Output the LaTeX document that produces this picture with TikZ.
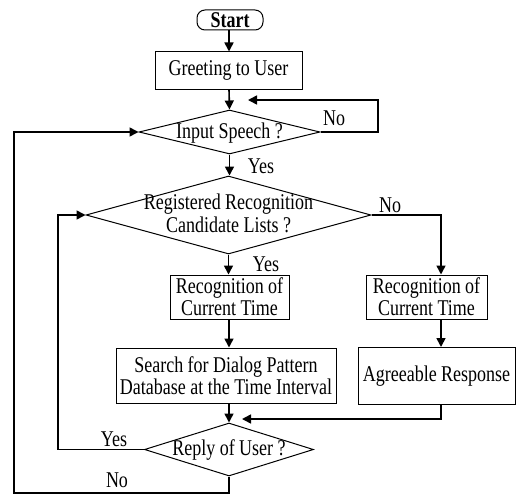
\documentclass[tikz,border=0pt]{standalone}
\usepackage{fontspec}
\setmainfont{Liberation Serif}[FakeStretch=0.8]
\usetikzlibrary{shapes.geometric,arrows.meta}
\newcommand{\dtxt}[1]{\smash{\makebox[0pt]{\raisebox{-0.3em}{\begin{tabular}{@{}c@{}}#1\end{tabular}}}}}
\tikzset{
  box/.style={draw, line width=1pt, rectangle, inner sep=0pt, align=center},
  dia/.style={draw, line width=1pt, diamond, inner sep=0pt},
  arr/.style={line width=1.6pt, -{Triangle[length=9pt,width=9pt]}},
  lab/.style={inner sep=0pt}
}
\begin{document}
\begin{tikzpicture}[x=1pt,y=-1pt,font=\fontsize{22.5}{22}\selectfont]
\useasboundingbox (0,0) rectangle (516,495);
% nodes
\node[box, rounded corners=8pt, minimum width=66pt, minimum height=20pt] (start) at (230,20) {\textbf{Start}};
\node[box, minimum width=147pt, minimum height=37pt] (greet) at (228.5,70.5) {Greeting to User};
\node[dia, minimum width=181pt, minimum height=44pt] (inp) at (229.5,132) {\dtxt{Input Speech ?}};
\node[dia, minimum width=285pt, minimum height=78pt] (reg) at (228.5,215) {\dtxt{Registered Recognition\\Candidate Lists ?}};
\node[box, minimum width=119pt, minimum height=44pt] (rec1) at (229.5,297) {Recognition of\\Current Time};
\node[box, minimum width=121pt, minimum height=44pt] (rec2) at (426.5,297) {Recognition of\\Current Time};
\node[box, minimum width=220pt, minimum height=55pt] (srch) at (226,375.5) {Search for Dialog Pattern\\Database at the Time Interval};
\node[box, minimum width=157pt, minimum height=57pt] (agr) at (436.5,376) {Agreeable Response};
\node[dia, minimum width=169pt, minimum height=53pt] (reply) at (229,449.5) {\dtxt{Reply of User ?}};
% labels
\node[lab] (l1) at (334,118) {No};
\node[lab] (l2) at (261,166) {Yes};
\node[lab] (l3) at (390,205) {No};
\node[lab] (l4) at (266,264) {Yes};
\node[lab] (l5) at (114,439) {Yes};
\node[lab] (l6) at (117,480) {No};
% helper coordinates
\coordinate (col) at (229,0);
\coordinate (rc) at (441,0);
\coordinate (nr) at (378,100);
\coordinate (nl) at (248,100);
\coordinate (yl) at (58,0);
\coordinate (bl) at (14,493);
\coordinate (mg) at (242,419);
% connectors
\draw[arr] (start.south -| col) -- (col |- greet.north);
\draw[arr] (greet.south -| col) -- (inp.north);
\draw[arr] (inp.east) -| (nr) -- (nl);
\draw[arr] (inp.south) -- (reg.north -| inp.south);
\draw[arr] (reg.south) -- (reg.south |- rec1.north);
\draw[arr] (reg.east) -| (rc |- rec2.north);
\draw[arr] (col |- rec1.south) -- (col |- srch.north);
\draw[arr] (rc |- rec2.south) -- (rc |- agr.north);
\draw[arr] (col |- srch.south) -- (reply.north);
\draw[arr] (rc |- agr.south) |- (mg);
\draw[arr] (reply.west) -- (reply.west -| yl) |- (reg.west);
\draw[arr] (reply.south) |- (bl) |- (inp.west);
\end{tikzpicture}
\end{document}
